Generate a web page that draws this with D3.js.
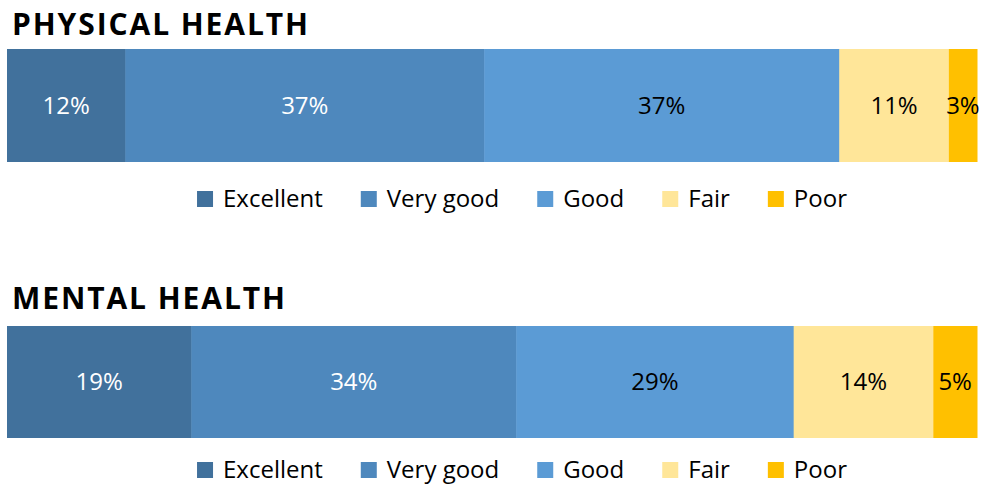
<!DOCTYPE html>
<html><head><meta charset="utf-8">
<script src="https://cdn.jsdelivr.net/npm/d3@7"></script>
<style>body{margin:0;background:#fff}svg{display:block}</style>
</head><body>
<svg id="chart" width="984" height="487"></svg>
<script>
const categories = ["Excellent","Very good","Good","Fair","Poor"];
const colors = ["#41719c","#4e88bd","#5b9bd5","#ffe699","#ffc000"];
const labelColors = ["#ffffff","#ffffff","#000000","#000000","#000000"];
const panels = ["PHYSICAL HEALTH","MENTAL HEALTH"];
const physicalValues = [12.2, 37.0, 36.6, 11.3, 2.9];
const mentalValues = [19.0, 33.5, 28.6, 14.4, 4.5];
const seriesValues = [physicalValues, mentalValues];

const svg = d3.select("#chart");
const font = "'Open Sans', 'Noto Sans', sans-serif";
const x = d3.scaleLinear().domain([0,100]).range([7,977]);
const layout = [
  {titleY:35, titleW:296, barY:49, barH:113, legY:199},
  {titleY:309, titleW:273, barY:326, barH:112, legY:470}
];

panels.forEach((title,pi)=>{
  const L = layout[pi];
  const vals = seriesValues[pi];
  const g = svg.append("g");
  g.append("text").attr("x",12).attr("y",L.titleY)
    .attr("font-family",font).attr("font-weight",700).attr("font-size",30)
    .attr("textLength",L.titleW).attr("lengthAdjust","spacing")
    .attr("fill","#000").text(title);
  let cum = 0;
  const segs = vals.map((v,i)=>{const s={i,v,x0:cum,x1:cum+v};cum+=v;return s;});
  const tot = cum;
  x.domain([0,tot]);
  g.selectAll("rect.seg").data(segs).enter().append("rect")
    .attr("x",d=>x(d.x0)).attr("width",d=>x(d.x1)-x(d.x0)+0.5)
    .attr("y",L.barY).attr("height",L.barH)
    .attr("fill",d=>colors[d.i]);
  g.selectAll("text.lab").data(segs).enter().append("text")
    .attr("x",d=>(x(d.x0)+x(d.x1))/2).attr("y",L.barY+L.barH/2)
    .attr("dy","0.35em").attr("text-anchor","middle")
    .attr("font-family",font).attr("font-size",24)
    .attr("fill",d=>labelColors[d.i]).text(d=>Math.round(d.v)+"%");
  // legend
  const fs = 24;
  const lg = g.append("g");
  const items = categories.map((c,i)=>{
    const t = lg.append("text").attr("font-family",font).attr("font-size",fs)
      .attr("fill","#000").attr("y",L.legY).attr("dy","0.35em").text(c);
    return {i,t,w:t.node().getComputedTextLength()};
  });
  const sq=16, gap1=10, gap2=38;
  const total = d3.sum(items,d=>sq+gap1+d.w) + gap2*(items.length-1);
  let cx = 522 - total/2;
  items.forEach(it=>{
    lg.append("rect").attr("x",cx).attr("y",L.legY-sq/2).attr("width",sq).attr("height",sq)
      .attr("fill",colors[it.i]);
    it.t.attr("x",cx+sq+gap1);
    cx += sq+gap1+it.w+gap2;
  });
});
</script>
</body></html>
